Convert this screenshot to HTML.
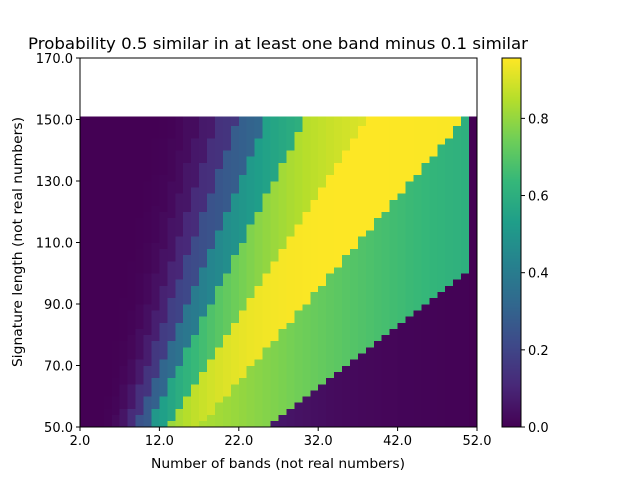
<!DOCTYPE html>
<html><head><meta charset="utf-8"><style>
body{margin:0;background:#fff;}
svg text{font-family:"DejaVu Sans","Liberation Sans",sans-serif;fill:#000;}
</style></head><body>
<svg id="chart" width="640" height="480" xmlns="http://www.w3.org/2000/svg">
<text x="278" y="49" font-size="16" text-anchor="middle" textLength="500" lengthAdjust="spacingAndGlyphs">Probability 0.5 similar in at least one band minus 0.1 similar</text>
<g id="cells" shape-rendering="crispEdges"></g>
<rect x="80" y="58" width="397" height="369" fill="none" stroke="#000" stroke-width="1"/>
<g id="xt"></g>
<g id="yt"></g>
<text x="278" y="468" font-size="13" text-anchor="middle" textLength="254" lengthAdjust="spacingAndGlyphs">Number of bands (not real numbers)</text>
<text transform="translate(22,242) rotate(-90)" font-size="13" text-anchor="middle" textLength="250" lengthAdjust="spacingAndGlyphs">Signature length (not real numbers)</text>
<g id="cbar" shape-rendering="crispEdges"></g>
<g id="ct"></g>
</svg>
<script>
const bands = Array.from({length:50},(_,i)=>2+i);          // 2..51
const sigLengths = Array.from({length:50},(_,i)=>50+2*i);  // 50..148
const simHigh = 0.5, simLow = 0.1;
const xTicks = [2,12,22,32,42,52];
const yTicks = [50,70,90,110,130,150,170];
const cTicks = [0,0.2,0.4,0.6,0.8];

const X0=80,X1=477,Y0=427,Y1=58, XMIN=2,XMAX=52,YMIN=50,YMAX=170;
const sx=v=>X0+(v-XMIN)/(XMAX-XMIN)*(X1-X0);
const sy=v=>Y0-(v-YMIN)/(YMAX-YMIN)*(Y0-Y1);
const NS="http://www.w3.org/2000/svg";
function mk(t,a){const e=document.createElementNS(NS,t);for(const k in a)e.setAttribute(k,a[k]);return e;}

function prob(s,r,b){return 1-Math.pow(1-Math.pow(s,r),b);}
const grid=sigLengths.map(n=>bands.map((b,j)=>{
  if(j===bands.length-1) return 0;
  const r=Math.floor(n/b);
  return prob(simHigh,r,b)-prob(simLow,r,b);
}));
let vmin=Infinity,vmax=-Infinity;
grid.forEach(row=>row.forEach(v=>{vmin=Math.min(vmin,v);vmax=Math.max(vmax,v);}));

const vir=["#440154","#482878","#3e4989","#31688e","#26828e","#1f9e89","#35b779","#6ece58","#b5de2b","#fde725"].map(h=>[1,3,5].map(i=>parseInt(h.substr(i,2),16)));
function cmap(t){t=Math.max(0,Math.min(1,t));const p=t*(vir.length-1);const i=Math.min(Math.floor(p),vir.length-2);const f=p-i;
 const c=vir[i].map((v,k)=>Math.round(v+(vir[i+1][k]-v)*f));return `rgb(${c[0]},${c[1]},${c[2]})`;}

const cells=document.getElementById('cells');
sigLengths.forEach((n,i)=>bands.forEach((b,j)=>{
  const x=sx(b),y=sy(n+2)-(i===sigLengths.length-1?3:0);
  const r=mk('rect',{x:x,y:y,width:sx(b+1)-x+0.3,height:sy(n)-y+0.3,fill:cmap((grid[i][j]-vmin)/(vmax-vmin))});
  
  
  cells.appendChild(r);
}));

const xt=document.getElementById('xt');
xTicks.forEach(v=>{const x=sx(v);
  xt.appendChild(mk('line',{x1:x,x2:x,y1:Y0,y2:Y0+4,stroke:'#000'}));
  const t=mk('text',{x:x,y:Y0+18,'font-size':13,'text-anchor':'middle'});t.textContent=v.toFixed(1);
  
  
  xt.appendChild(t);});
const yt=document.getElementById('yt');
yTicks.forEach(v=>{const y=sy(v);
  yt.appendChild(mk('line',{x1:X0-4,x2:X0,y1:y,y2:y,stroke:'#000'}));
  const t=mk('text',{x:X0-7,y:y+5,'font-size':13,'text-anchor':'end'});t.textContent=v.toFixed(1);
  
  
  yt.appendChild(t);});

const CX=502,CW=19,cb=document.getElementById('cbar');
for(let k=0;k<369;k++){cb.appendChild(mk('rect',{x:CX,y:Y0-k-1,width:CW,height:1.2,fill:cmap(k/368)}));}
cb.appendChild(mk('rect',{x:CX,y:Y1,width:CW,height:Y0-Y1,fill:'none',stroke:'#000'}));
const ct=document.getElementById('ct');
cTicks.forEach(v=>{const y=Y0-(v-vmin)/(vmax-vmin)*(Y0-Y1);
  ct.appendChild(mk('line',{x1:CX+CW,x2:CX+CW+4,y1:y,y2:y,stroke:'#000'}));
  const t=mk('text',{x:CX+CW+7,y:y+5,'font-size':13});t.textContent=v.toFixed(1);
  
  
  ct.appendChild(t);});
</script>
</body></html>
